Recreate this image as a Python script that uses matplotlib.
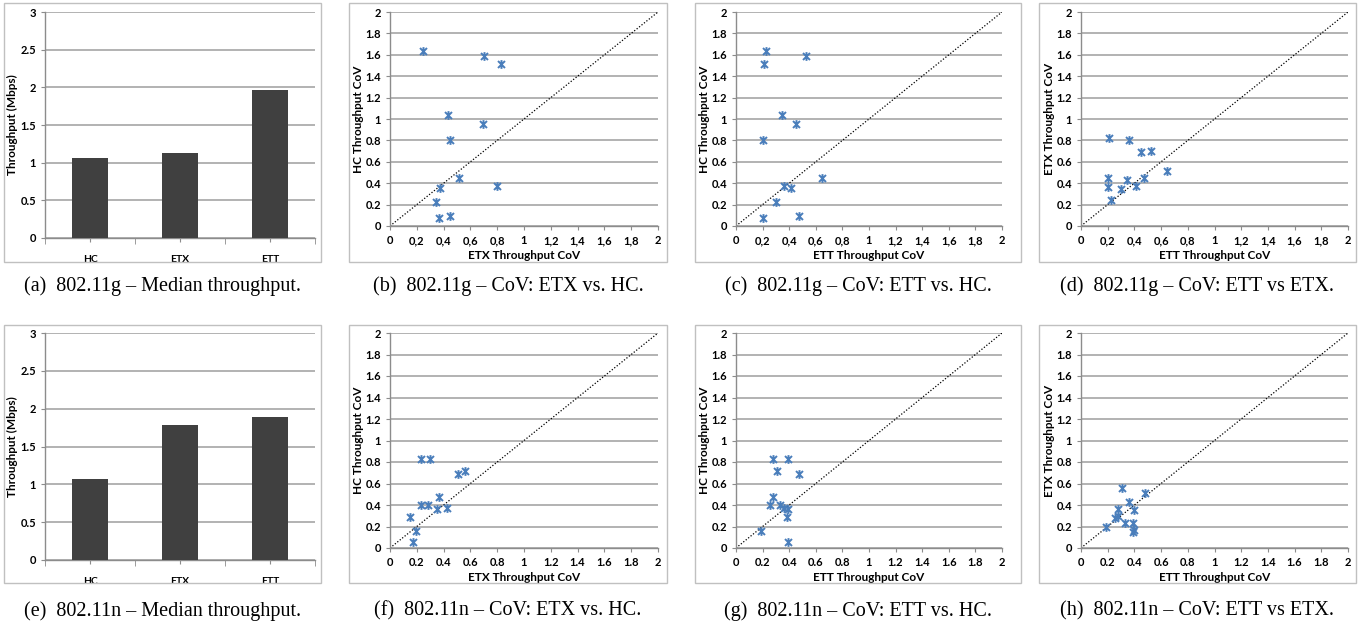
import matplotlib
matplotlib.use("Agg")
import matplotlib.pyplot as plt
from matplotlib.path import Path
from matplotlib.patches import Rectangle

# ======================
# 1. Data
# ======================
metrics = ["HC", "ETX", "ETT"]
median_g = [1.06, 1.13, 1.97]     # Mbps, 802.11g
median_n = [1.07, 1.78, 1.89]     # Mbps, 802.11n

# per-flow throughput CoV, 802.11g
hc_g = [1.636, 1.586, 1.512, 1.039, 0.955, 0.802, 0.448, 0.376, 0.358, 0.221, 0.075, 0.093]
etx_g = [0.244, 0.700, 0.827, 0.431, 0.695, 0.448, 0.516, 0.802, 0.371, 0.344, 0.366, 0.448]
ett_g = [0.228, 0.525, 0.208, 0.343, 0.450, 0.203, 0.643, 0.360, 0.410, 0.300, 0.204, 0.471]

# per-flow throughput CoV, 802.11n
hc_n = [0.826, 0.826, 0.716, 0.686, 0.474, 0.396, 0.396, 0.368, 0.360, 0.292, 0.158, 0.055]
etx_n = [0.302, 0.228, 0.558, 0.511, 0.365, 0.280, 0.235, 0.427, 0.350, 0.152, 0.192, 0.170]
ett_n = [0.277, 0.389, 0.307, 0.477, 0.278, 0.254, 0.332, 0.362, 0.394, 0.387, 0.186, 0.394]

captions = [
    "(a)  802.11g – Median throughput.", "(b)  802.11g – CoV: ETX vs. HC.",
    "(c)  802.11g – CoV: ETT vs. HC.", "(d)  802.11g – CoV: ETT vs ETX.",
    "(e)  802.11n – Median throughput.", "(f)  802.11n – CoV: ETX vs. HC.",
    "(g)  802.11n – CoV: ETT vs. HC.", "(h)  802.11n – CoV: ETT vs ETX.",
]

# ======================
# 2. Layout / style
# ======================
W, H = 1369, 627
fig = plt.figure(figsize=(W / 100, H / 100), dpi=100)

FONT = "Lato"
SERIF = "Liberation Serif"
GRID = "#a6a6a6"
SPINE = "#8c8c8c"
FRAME = "#c0c0c0"
BLUE = "#4a7ebb"
BAR = "#404040"

# asterisk-like marker used by the spreadsheet tool
star = Path([(-1, -1), (1, 1), (-1, 1), (1, -1), (0, -1.25), (0, 1.25)],
            [Path.MOVETO, Path.LINETO] * 3)


def px_axes(l, r, t, b):
    return fig.add_axes([l / W, 1 - b / H, (r - l) / W, (b - t) / H])


frame_x = [(4, 321), (349, 667), (695, 1021), (1039, 1356)]
frame_y = [(3, 262), (325, 583)]
caption_y = [286, 611]
scatter_x = [(390, 658), (736, 1002), (1081, 1348)]
bar_y = [(12, 238), (333, 560)]
scatter_y = [(12, 226), (333, 548)]


def style_axis(ax):
    for s in ("top", "right"):
        ax.spines[s].set_visible(False)
    for s in ("left", "bottom"):
        ax.spines[s].set_color(SPINE)
        ax.spines[s].set_linewidth(1.0)
    ax.tick_params(colors=SPINE, labelcolor="black", length=3, width=0.8,
                   labelsize=8)
    ax.yaxis.grid(True, color=GRID, lw=1.2)
    ax.set_axisbelow(True)
    for lab in ax.get_xticklabels() + ax.get_yticklabels():
        lab.set_fontfamily(FONT)
        lab.set_fontweight("bold")


def fmt(v, sep):
    s = f"{v:g}"
    return s.replace(".", sep)


def bar_panel(ax, values):
    ax.bar(range(len(metrics)), values, width=0.4, color=BAR, zorder=3)
    ax.set_xlim(-0.5, len(metrics) - 0.5)
    ax.set_ylim(0, 3)
    yt = [0, 0.5, 1, 1.5, 2, 2.5, 3]
    ax.set_yticks(yt)
    ax.set_yticklabels([fmt(v, ".") for v in yt])
    ax.set_xticks(range(len(metrics)))
    ax.set_xticklabels(metrics)
    ax.set_xticks([-0.5, 0.5, 1.5, 2.5], minor=True)
    ax.tick_params(axis="x", which="major", length=0, pad=9)
    ax.tick_params(axis="x", which="minor", length=4, color=SPINE)
    style_axis(ax)
    ax.tick_params(axis="x", which="major", labelsize=7.5)
    ax.set_ylabel("Throughput (Mbps)", fontfamily=FONT, fontweight="bold",
                  fontsize=8.5)
    ax.yaxis.set_label_coords(-0.1, 0.5)


def scatter_panel(ax, x, y, xlabel, ylabel, xsep):
    ax.plot([0, 2], [0, 2], ls=(0, (1, 1.5)), color="black", lw=0.9, zorder=2)
    ax.plot(x, y, ls="none", marker=star, ms=6.3, mew=1.4, color=BLUE,
            zorder=4, clip_on=False)
    ax.set_xlim(0, 2)
    ax.set_ylim(0, 2)
    t = [round(0.2 * i, 1) for i in range(11)]
    ax.set_xticks(t)
    ax.set_xticklabels([fmt(v, xsep) for v in t])
    ax.set_yticks(t)
    ax.set_yticklabels([fmt(v, ".") for v in t])
    style_axis(ax)
    ax.set_xlabel(xlabel, fontfamily=FONT, fontweight="bold", fontsize=8.5)
    ax.set_ylabel(ylabel, fontfamily=FONT, fontweight="bold", fontsize=8.5)
    ax.xaxis.set_label_coords(0.5, -0.113)
    ax.yaxis.set_label_coords(-0.098, 0.5)


# ======================
# 3. Draw panels
# ======================
rows = [
    (median_g, [(etx_g, hc_g, "ETX Throughput CoV", "HC Throughput CoV"),
                (ett_g, hc_g, "ETT Throughput CoV", "HC Throughput CoV"),
                (ett_g, etx_g, "ETT Throughput CoV", "ETX Throughput CoV")], ","),
    (median_n, [(etx_n, hc_n, "ETX Throughput CoV", "HC Throughput CoV"),
                (ett_n, hc_n, "ETT Throughput CoV", "HC Throughput CoV"),
                (ett_n, etx_n, "ETT Throughput CoV", "ETX Throughput CoV")], "."),
]

for r, (medians, scatters, xsep) in enumerate(rows):
    ax = px_axes(45, 315, *bar_y[r])
    bar_panel(ax, medians)
    for c, (xs, ys, xl, yl) in enumerate(scatters):
        ax = px_axes(*scatter_x[c], *scatter_y[r])
        scatter_panel(ax, xs, ys, xl, yl, xsep)

    # outer chart frames and captions
    for c in range(4):
        x0, x1 = frame_x[c]
        y0, y1 = frame_y[r]
        fig.patches.append(Rectangle((x0 / W, 1 - y1 / H), (x1 - x0) / W,
                                     (y1 - y0) / H, transform=fig.transFigure,
                                     fill=False, ec=FRAME, lw=1.0))
        fig.text((x0 + x1) / 2 / W, 1 - caption_y[r] / H, captions[r * 4 + c],
                 ha="center", va="center", fontfamily=SERIF, fontsize=14.5)

fig.savefig("out.png", dpi=100)
